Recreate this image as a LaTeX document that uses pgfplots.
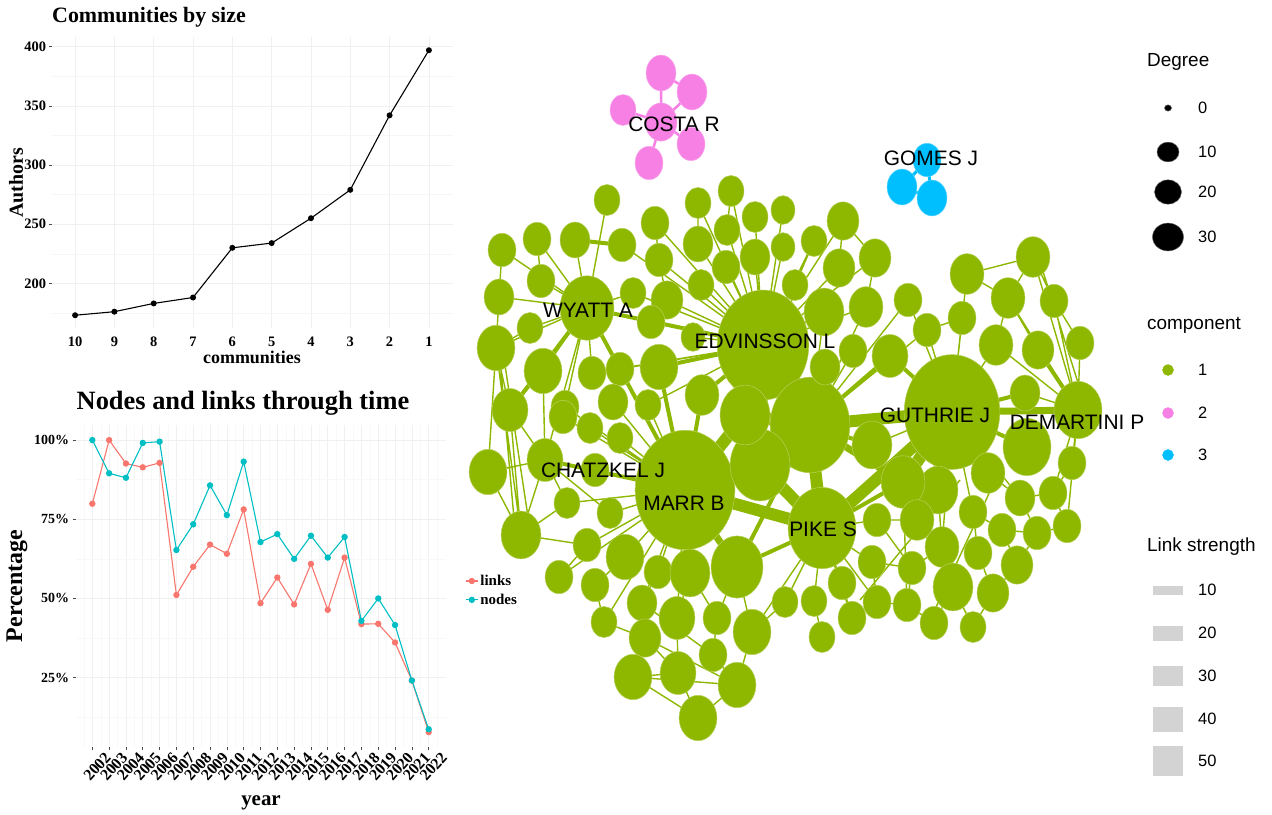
\documentclass[border=0pt]{standalone}
\usepackage{pgfplots}
\pgfplotsset{compat=1.18}
\usepackage{pgfplotstable}
\usepackage{fontspec}
\setmainfont{Liberation Serif}
\newfontfamily\arial{Liberation Sans}
\definecolor{gcol}{RGB}{142,183,0}
\definecolor{pcol}{RGB}{246,128,228}
\definecolor{bcol}{RGB}{0,191,255}
\definecolor{rline}{RGB}{248,118,109}
\definecolor{cline}{RGB}{0,191,196}
\definecolor{gridc}{RGB}{240,240,240}
\definecolor{lsgrey}{RGB}{211,211,211}

\pgfplotstableread{
x y r
763 345 46
810 425 40
952 412 48
685 490 50
822 528 34
587 308 27
545 460 18
1078 410 24
760 465 30
745 415 25
607 200 13
502 250 14
537 239 14
575 240 15
622 245 14
541 281 14
499 297 15
633 293 13
530 328 13
496 348 19
543 371 19
592 373 14
620 369 14
613 402 15
648 405 13
565 407 14
510 410 18
655 223 14
659 260 14
698 203 13
731 191 13
698 244 15
727 230 13
755 217 13
783 210 12
755 257 15
726 267 14
783 247 12
701 285 13
667 300 16
651 322 14
693 337 12
659 367 19
702 395 17
843 221 16
814 241 13
875 258 16
839 268 16
795 285 13
824 312 20
866 307 17
908 300 14
927 330 14
962 318 14
967 274 17
1033 257 17
1008 298 17
1054 301 14
996 345 17
1038 350 16
1080 343 14
853 351 14
890 356 18
1025 393 15
825 367 15
1072 463 14
1053 493 14
1067 526 14
1020 498 15
1037 533 14
1002 530 14
1017 565 16
993 593 16
973 627 13
978 553 14
973 512 14
1027 447 24
988 473 17
938 490 20
903 482 22
917 520 17
942 547 17
953 587 20
934 623 14
907 605 14
912 568 14
877 602 14
852 618 14
872 562 14
877 520 14
842 583 14
814 601 13
822 637 13
785 602 13
872 445 20
488 472 19
521 535 20
567 503 13
587 545 14
559 577 14
595 585 14
604 622 13
610 513 13
625 557 19
642 603 15
645 638 16
633 677 19
678 673 18
698 718 19
737 685 19
713 655 14
752 632 19
717 618 14
677 618 18
658 572 14
690 573 20
737 567 26
620 438 13
590 428 13
563 417 14
595 470 14
}\gnodes

\pgfplotstableread{
x y r
661 122 16
661 73 15
692 92 15
623 110 13
691 144 14
649 163 14
}\pnodes

\pgfplotstableread{
x y r
927 160 14
902 187 15
932 198 15
}\bnodes

\pgfplotstableread{
x y r
1168 108 3.5
1168 152 11
1168 192 13.5
1168 237 15.5
}\degleg

\pgfplotstableread{
c n
0 173
1 176
2 183
3 188
4 230
5 234
6 255
7 279
8 342
9 397
}\comm

\pgfplotstableread{
year links nodes
2002 79.9 100
2003 100 89.5
2004 92.6 88.1
2005 91.4 99.1
2006 92.8 99.5
2007 51.1 65.3
2008 60.0 73.4
2009 67.0 85.7
2010 64.1 76.3
2011 78.1 93.2
2012 48.5 67.8
2013 56.6 70.3
2014 48.1 62.5
2015 60.9 69.8
2016 46.4 62.9
2017 62.9 69.4
2018 41.9 42.9
2019 42.0 50.0
2020 36.1 41.6
2021 24.1 24.1
2022 7.8 8.7
}\years

\pgfplotsset{
  sizedmarks/.style={scatter, only marks, mark=*,
    scatter/use mapped color={draw=white!35!#1, fill=#1},
    visualization depends on={\thisrow{r} \as \noderad},
    scatter/@pre marker code/.append style={/tikz/mark size=\noderad},
    every mark/.append style={yscale=1.2, line width=0.5bp}},
  fullpic/.style={at={(636bp,407.5bp)}, anchor=center, scale only axis,
    width=1272bp, height=815bp, xmin=0, xmax=1272, ymin=0, ymax=815,
    y dir=reverse, hide axis, clip=false, unbounded coords=jump},
}

\begin{document}
\begin{tikzpicture}
\path[use as bounding box] (0bp,0bp) rectangle (1272bp,815bp);

% ---------------- network (full picture pixel axis) ----------------
\begin{axis}[fullpic]

% thin edges
\addplot[gcol, line width=1.4bp] coordinates {
(587,308) (537,239) (nan,nan) (587,308) (575,240) (nan,nan) (587,308) (607,200) (nan,nan)
(587,308) (541,281) (nan,nan) (587,308) (499,297) (nan,nan) (587,308) (530,328) (nan,nan)
(587,308) (496,348) (nan,nan) (587,308) (543,371) (nan,nan) (587,308) (633,293) (nan,nan)
(587,308) (502,250) (nan,nan) (502,250) (499,297) (nan,nan) (537,239) (541,281) (nan,nan)
(499,297) (496,348) (nan,nan) (496,348) (510,410) (nan,nan) (496,348) (488,472) (nan,nan)
(543,371) (510,410) (nan,nan) (543,371) (545,460) (nan,nan) (510,410) (521,535) (nan,nan)
(496,348) (521,535) (nan,nan) (488,472) (521,535) (nan,nan) (545,460) (521,535) (nan,nan)
(510,410) (545,460) (nan,nan) (530,328) (496,348) (nan,nan) (488,472) (545,460) (nan,nan)
(500,360) (515,530) (nan,nan) (505,365) (530,530) (nan,nan)
(587,308) (565,407) (nan,nan) (587,308) (592,373) (nan,nan) (587,308) (545,460) (nan,nan)
(763,345) (655,223) (nan,nan) (763,345) (659,260) (nan,nan) (763,345) (698,203) (nan,nan)
(763,345) (731,191) (nan,nan) (763,345) (698,244) (nan,nan) (763,345) (727,230) (nan,nan)
(763,345) (755,217) (nan,nan) (763,345) (783,210) (nan,nan) (763,345) (755,257) (nan,nan)
(763,345) (726,267) (nan,nan) (763,345) (783,247) (nan,nan) (763,345) (701,285) (nan,nan)
(763,345) (667,300) (nan,nan) (763,345) (651,322) (nan,nan) (763,345) (693,337) (nan,nan)
(763,345) (843,221) (nan,nan) (763,345) (814,241) (nan,nan) (763,345) (839,268) (nan,nan)
(763,345) (795,285) (nan,nan) (763,345) (824,312) (nan,nan) (763,345) (866,307) (nan,nan)
(763,345) (620,369) (nan,nan) (763,345) (592,373) (nan,nan) (763,345) (648,405) (nan,nan)
(763,345) (633,293) (nan,nan) (763,345) (622,245) (nan,nan) (763,345) (875,258) (nan,nan)
(655,223) (659,260) (nan,nan) (698,203) (698,244) (nan,nan) (731,191) (727,230) (nan,nan)
(843,221) (875,258) (nan,nan) (843,221) (839,268) (nan,nan) (875,258) (866,307) (nan,nan)
(814,241) (795,285) (nan,nan) (659,260) (667,300) (nan,nan)
(810,425) (908,300) (nan,nan) (810,425) (866,307) (nan,nan) (810,425) (853,351) (nan,nan)
(810,425) (825,367) (nan,nan) (810,425) (824,312) (nan,nan) (810,425) (927,330) (nan,nan)
(952,412) (927,330) (nan,nan) (952,412) (962,318) (nan,nan) (952,412) (908,300) (nan,nan)
(952,412) (967,274) (nan,nan) (952,412) (996,345) (nan,nan)
(927,330) (962,318) (nan,nan) (967,274) (1033,257) (nan,nan) (967,274) (1008,298) (nan,nan)
(1008,298) (1033,257) (nan,nan) (1033,257) (1054,301) (nan,nan) (1008,298) (996,345) (nan,nan)
(1008,298) (1038,350) (nan,nan) (1054,301) (1080,343) (nan,nan) (1054,301) (1078,410) (nan,nan)
(1033,257) (1078,410) (nan,nan) (1008,298) (1078,410) (nan,nan) (996,345) (1078,410) (nan,nan)
(1080,343) (1078,410) (nan,nan) (1025,393) (1078,410) (nan,nan) (1040,262) (1085,405) (nan,nan)
(685,490) (567,503) (nan,nan) (685,490) (587,545) (nan,nan) (685,490) (610,513) (nan,nan)
(685,490) (595,470) (nan,nan) (685,490) (620,438) (nan,nan) (685,490) (590,428) (nan,nan)
(685,490) (563,417) (nan,nan) (685,490) (613,402) (nan,nan) (685,490) (565,407) (nan,nan)
(685,490) (625,557) (nan,nan) (685,490) (658,572) (nan,nan) (685,490) (690,573) (nan,nan)
(685,490) (642,603) (nan,nan) (685,490) (677,618) (nan,nan) (685,490) (559,577) (nan,nan)
(685,490) (604,622) (nan,nan) (685,490) (648,405) (nan,nan)
(625,557) (595,585) (nan,nan) (595,585) (604,622) (nan,nan) (559,577) (587,545) (nan,nan)
(604,622) (645,638) (nan,nan) (645,638) (633,677) (nan,nan) (633,677) (698,718) (nan,nan)
(678,673) (698,718) (nan,nan) (737,685) (698,718) (nan,nan) (645,638) (678,673) (nan,nan)
(677,618) (678,673) (nan,nan) (713,655) (737,685) (nan,nan) (752,632) (737,685) (nan,nan)
(717,618) (713,655) (nan,nan) (642,603) (645,638) (nan,nan) (690,573) (677,618) (nan,nan)
(737,567) (752,632) (nan,nan) (737,567) (717,618) (nan,nan) (690,573) (717,618) (nan,nan)
(633,677) (678,673) (nan,nan) (633,677) (737,685) (nan,nan) (645,638) (737,685) (nan,nan)
(642,603) (713,655) (nan,nan) (658,572) (642,603) (nan,nan) (567,503) (521,535) (nan,nan)
(587,545) (521,535) (nan,nan) (545,460) (567,503) (nan,nan) (545,460) (610,513) (nan,nan)
(822,528) (785,602) (nan,nan) (822,528) (814,601) (nan,nan) (822,528) (842,583) (nan,nan)
(822,528) (872,562) (nan,nan) (822,528) (877,520) (nan,nan) (822,528) (852,618) (nan,nan)
(822,528) (877,602) (nan,nan) (814,601) (822,637) (nan,nan) (842,583) (852,618) (nan,nan)
(872,562) (877,602) (nan,nan) (852,618) (877,602) (nan,nan) (872,562) (912,568) (nan,nan)
(912,568) (907,605) (nan,nan) (877,602) (907,605) (nan,nan) (907,605) (903,482) (nan,nan)
(912,568) (942,547) (nan,nan) (942,547) (953,587) (nan,nan) (953,587) (934,623) (nan,nan)
(953,587) (973,627) (nan,nan) (934,623) (907,605) (nan,nan) (993,593) (973,627) (nan,nan)
(978,553) (993,593) (nan,nan) (1017,565) (993,593) (nan,nan) (1002,530) (1017,565) (nan,nan)
(1037,533) (1017,565) (nan,nan) (1020,498) (1037,533) (nan,nan) (1053,493) (1067,526) (nan,nan)
(1072,463) (1078,410) (nan,nan) (1053,493) (1078,410) (nan,nan) (1067,526) (1078,410) (nan,nan)
(952,412) (938,490) (nan,nan) (952,412) (917,520) (nan,nan) (952,412) (942,547) (nan,nan)
(952,412) (973,512) (nan,nan) (952,412) (1020,498) (nan,nan) (938,490) (942,547) (nan,nan)
(973,512) (978,553) (nan,nan) (1002,530) (973,512) (nan,nan) (988,473) (1020,498) (nan,nan)
(1020,498) (1053,493) (nan,nan) (1037,533) (1067,526) (nan,nan) (1002,530) (1037,533) (nan,nan)
(917,520) (953,587) (nan,nan) (877,520) (917,520) (nan,nan) (877,520) (912,568) (nan,nan)
(952,412) (872,445) (nan,nan) (822,528) (752,632) (nan,nan) (785,602) (752,632) (nan,nan)
(1072,463) (1053,493) (nan,nan) (860,600) (960,480) (nan,nan) (930,620) (1000,470)
};

% medium edges
\addplot[gcol, line width=4bp] coordinates {
(587,308) (510,410) (nan,nan) (575,240) (622,245) (nan,nan) (587,308) (763,345) (nan,nan)
(587,308) (685,490) (nan,nan) (685,490) (545,460) (nan,nan) (763,345) (702,395) (nan,nan)
(763,345) (659,367) (nan,nan) (685,490) (737,567) (nan,nan) (810,425) (872,445) (nan,nan)
(952,412) (1027,447) (nan,nan) (952,412) (988,473) (nan,nan) (1078,410) (1038,350) (nan,nan)
(822,528) (903,482) (nan,nan) (952,412) (1025,393) (nan,nan) (952,412) (890,356) (nan,nan)
(810,425) (890,356) (nan,nan) (810,425) (737,567) (nan,nan) (822,528) (737,567) (nan,nan)
(685,490) (702,395) (nan,nan) (685,490) (659,367)
};

% thick edges
\addplot[gcol, line width=12bp] coordinates {
(763,345) (810,425) (nan,nan) (763,345) (745,415) (nan,nan) (763,345) (760,465) (nan,nan)
(745,415) (685,490) (nan,nan) (760,465) (685,490) (nan,nan) (760,465) (822,528) (nan,nan)
(810,425) (822,528) (nan,nan) (810,425) (952,412) (nan,nan) (810,425) (760,465) (nan,nan)
(745,415) (810,425) (nan,nan) (685,490) (822,528) (nan,nan) (952,412) (822,528) (nan,nan)
(952,412) (903,482)
};
\addplot[gcol, line width=7bp] coordinates {
(952,412) (1078,410) (nan,nan) (903,482) (810,425) (nan,nan) (685,490) (737,567)
};

% pink and blue edges
\addplot[pcol, line width=2.5bp] coordinates {
(661,122) (661,73) (nan,nan) (661,122) (692,92) (nan,nan) (661,122) (623,110) (nan,nan)
(661,122) (691,144) (nan,nan) (661,122) (649,163) (nan,nan) (661,73) (692,92)
};
\addplot[bcol, line width=3bp] coordinates {
(927,160) (902,187) (nan,nan) (902,187) (932,198) (nan,nan) (932,198) (927,160)
};

% nodes
\addplot[sizedmarks=gcol] table[x=x,y=y] {\gnodes};
\addplot[sizedmarks=pcol] table[x=x,y=y] {\pnodes};
\addplot[sizedmarks=bcol] table[x=x,y=y] {\bnodes};

% network legend keys
\addplot[sizedmarks=black, every mark/.append style={yscale=0.9/1.2}] table[x=x,y=y] {\degleg};
\addplot[only marks, mark=*, mark size=5.5bp, color=gcol] coordinates {(1168,370)};
\addplot[only marks, mark=*, mark size=5.5bp, color=pcol] coordinates {(1168,413)};
\addplot[only marks, mark=*, mark size=5.5bp, color=bcol] coordinates {(1168,455)};
\addplot[fill=lsgrey, draw=none] coordinates {(1153,585.5) (1183,585.5) (1183,594.5) (1153,594.5)} -- cycle;
\addplot[fill=lsgrey, draw=none] coordinates {(1153,625.5) (1183,625.5) (1183,640.5) (1153,640.5)} -- cycle;
\addplot[fill=lsgrey, draw=none] coordinates {(1153,666) (1183,666) (1183,686) (1153,686)} -- cycle;
\addplot[fill=lsgrey, draw=none] coordinates {(1153,706.5) (1183,706.5) (1183,731.5) (1153,731.5)} -- cycle;
\addplot[fill=lsgrey, draw=none] coordinates {(1153,746) (1183,746) (1183,776) (1153,776)} -- cycle;
\end{axis}

% ---------------- text overlay (same pixel axis) ----------------
\begin{axis}[fullpic]
\addplot[draw=none, forget plot] coordinates {(0,0)};
\begin{scope}[every node/.style={font=\arial\fontsize{21}{21}\selectfont, inner sep=0pt}]
\node at (axis cs:674,124) {COSTA R};
\node at (axis cs:931,158) {GOMES J};
\node at (axis cs:588,310) {WYATT A};
\node at (axis cs:765,341) {EDVINSSON L};
\node at (axis cs:935,415) {GUTHRIE J};
\node at (axis cs:1077,422) {DEMARTINI P};
\node at (axis cs:603,470) {CHATZKEL J};
\node at (axis cs:684,503) {MARR B};
\node at (axis cs:823,529) {PIKE S};
\end{scope}

\begin{scope}[every node/.style={anchor=west, inner sep=0pt, font=\arial\fontsize{19}{19}\selectfont}]
\node at (axis cs:1147,62) {Degree};
\node at (axis cs:1147,325) {component};
\node at (axis cs:1147,547) {Link strength};
\end{scope}
\begin{scope}[every node/.style={anchor=west, inner sep=0pt, font=\arial\fontsize{16.5}{16.5}\selectfont}]
\node at (axis cs:1198,108) {0};
\node at (axis cs:1198,152) {10};
\node at (axis cs:1198,192) {20};
\node at (axis cs:1198,237) {30};
\node at (axis cs:1198,370) {1};
\node at (axis cs:1198,413) {2};
\node at (axis cs:1198,455) {3};
\node at (axis cs:1198,590) {10};
\node at (axis cs:1198,633) {20};
\node at (axis cs:1198,676) {30};
\node at (axis cs:1198,719) {40};
\node at (axis cs:1198,761) {50};
\end{scope}

% left chart titles and labels
\node[anchor=west, inner sep=0pt, font=\bfseries\fontsize{22}{22}\selectfont] at (axis cs:52,17) {Communities by size};
\node[rotate=90, inner sep=0pt, font=\bfseries\fontsize{20}{20}\selectfont] at (axis cs:16,183) {Authors};
\node[inner sep=0pt, font=\bfseries\fontsize{18}{18}\selectfont] at (axis cs:252,357) {communities};
\node[inner sep=0pt, font=\bfseries\fontsize{26.5}{26.5}\selectfont] at (axis cs:243,403) {Nodes and links through time};
\node[rotate=90, inner sep=0pt, font=\bfseries\fontsize{24}{24}\selectfont] at (axis cs:17,586) {Percentage};
\node[inner sep=0pt, font=\bfseries\fontsize{21}{21}\selectfont] at (axis cs:261,803) {year};
\end{axis}

% ---------------- Communities by size ----------------
\begin{axis}[at={(252bp,632.25bp)}, anchor=center, scale only axis,
  width=401bp, height=291.5bp,
  xmin=-0.6, xmax=9.6, ymin=161.8, ymax=408.2,
  axis line style={draw=none}, tick pos=left,
  xtick={0,1,2,3,4,5,6,7,8,9}, xticklabels={10,9,8,7,6,5,4,3,2,1},
  ytick={200,250,300,350,400}, minor ytick={175,225,275,325,375},
  grid=both, major grid style={gridc, line width=0.6bp}, minor grid style={gridc!60!white, line width=0.4bp},
  tick align=outside, major tick length=3bp, minor tick length=0pt,
  xtick style={draw=none}, ytick style={black!70, line width=0.6bp},
  ticklabel style={font=\bfseries\fontsize{14.5}{14.5}\selectfont},
  /pgf/number format/assume math mode=true,
  yticklabel style={xshift=1bp}, xticklabel style={yshift=-2bp}]
\addplot[black, line width=1.1bp, mark=*, mark size=2.4bp] table[x=c,y=n] {\comm};
\end{axis}

% ---------------- Nodes and links through time ----------------
\begin{axis}[at={(260.5bp,228.75bp)}, anchor=center, scale only axis,
  width=370bp, height=321.5bp,
  xmin=2001, xmax=2023, ymin=3.1, ymax=104.6,
  axis line style={draw=none}, tick pos=left,
  xtick={2002,2003,...,2022},
  xticklabels={2002,2003,2004,2005,2006,2007,2008,2009,2010,2011,2012,2013,2014,2015,2016,2017,2018,2019,2020,2021,2022},
  ytick={25,50,75,100}, yticklabels={25\%,50\%,75\%,100\%},
  minor ytick={12.5,37.5,62.5,87.5},
  minor xtick={2001.5,2002.5,...,2022.5},
  grid=both, major grid style={gridc, line width=0.6bp}, minor grid style={gridc!50!white, line width=0.4bp},
  tick align=outside, major tick length=3bp, minor tick length=0pt,
  tick style={black!70, line width=0.6bp},
  ticklabel style={font=\bfseries\fontsize{14}{14}\selectfont},
  xticklabel style={font=\bfseries\fontsize{16}{16}\selectfont, rotate=48, anchor=north east, inner sep=1bp, xshift=8bp, yshift=-8bp},
  legend style={at={(1.053,0.487)}, anchor=west, draw=none, fill=none,
    font=\bfseries\fontsize{15}{15}\selectfont, row sep=3bp, inner sep=0pt},
  legend cell align=left,
  legend image code/.code={\draw[#1, mark repeat=2, mark phase=2] plot coordinates {(0bp,0bp) (6bp,0bp) (12bp,0bp)};}]
\addplot[rline, line width=1.1bp, mark=*, mark size=2.6bp] table[x=year,y=links] {\years};
\addlegendentry{links}
\addplot[cline, line width=1.1bp, mark=*, mark size=2.6bp] table[x=year,y=nodes] {\years};
\addlegendentry{nodes}
\end{axis}
\end{tikzpicture}
\end{document}
